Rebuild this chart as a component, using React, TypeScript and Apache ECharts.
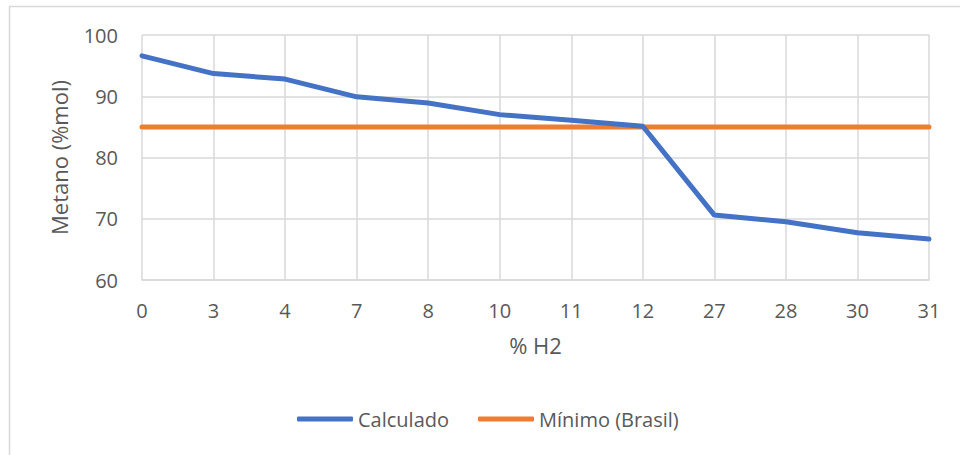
import React, { useEffect, useRef } from "react";
import * as echarts from "echarts";

const categories = ["0", "3", "4", "7", "8", "10", "11", "12", "27", "28", "30", "31"];
const calculado = [96.6, 93.7, 92.8, 89.9, 88.9, 87.0, 86.1, 85.1, 70.6, 69.5, 67.7, 66.7];
const minimoBrasil = [85, 85, 85, 85, 85, 85, 85, 85, 85, 85, 85, 85];
const yTicks = { min: 60, max: 100, interval: 10 };

const FONT = "'Open Sans', sans-serif";
const TXT = "#595959";
const GRID = "#d9d9d9";

export default function App() {
  const ref = useRef<HTMLDivElement>(null);
  useEffect(() => {
    if (!ref.current) return;
    const chart = echarts.init(ref.current, undefined, { renderer: "svg" });
    chart.setOption({
      animation: false,
      backgroundColor: "#ffffff",
      textStyle: { fontFamily: FONT },
      graphic: [
        {
          type: "rect",
          shape: { x: 9.5, y: 6.5, width: 1000, height: 500 },
          style: { fill: "none", stroke: GRID, lineWidth: 1.5 },
          silent: true,
        },
      ],
      grid: { left: 142, right: 31, top: 35, bottom: 175, containLabel: false },
      legend: {
        left: 297,
        top: 409,
        padding: 0,
        icon: "roundRect",
        itemWidth: 56,
        itemHeight: 5,
        itemGap: 29,
        textStyle: { fontFamily: FONT, fontSize: 20, color: TXT },
        data: ["Calculado", "Mínimo (Brasil)"],
      },
      xAxis: {
        type: "category",
        data: categories,
        boundaryGap: false,
        name: "% H2",
        nameLocation: "middle",
        nameGap: 54,
        nameTextStyle: { fontFamily: FONT, fontSize: 22, color: TXT },
        axisLine: { show: true, lineStyle: { color: GRID, width: 1.5 } },
        axisTick: { show: false },
        axisLabel: { fontFamily: FONT, fontSize: 20, color: TXT, margin: 20 },
        splitLine: { show: true, lineStyle: { color: GRID, width: 1.5 } },
      },
      yAxis: {
        type: "value",
        min: yTicks.min,
        max: yTicks.max,
        interval: yTicks.interval,
        name: "Metano (%mol)",
        nameLocation: "middle",
        nameGap: 72,
        nameTextStyle: { fontFamily: FONT, fontSize: 22, color: TXT },
        axisLine: { show: false },
        axisTick: { show: false },
        axisLabel: { fontFamily: FONT, fontSize: 20, color: TXT, margin: 24 },
        splitLine: { show: true, lineStyle: { color: GRID, width: 1.5 } },
      },
      series: [
        {
          name: "Calculado",
          type: "line",
          data: calculado,
          symbol: "none",
          lineStyle: { width: 5, color: "#4472C4", cap: "round" },
          itemStyle: { color: "#4472C4" },
          z: 3,
        },
        {
          name: "Mínimo (Brasil)",
          type: "line",
          data: minimoBrasil,
          symbol: "none",
          lineStyle: { width: 5, color: "#ED7D31", cap: "round" },
          itemStyle: { color: "#ED7D31" },
          z: 2,
        },
      ],
    });
    return () => chart.dispose();
  }, []);
  return (
    <div
      ref={ref}
      style={{ position: "fixed", left: 0, top: 0, width: 960, height: 455 }}
    />
  );
}
